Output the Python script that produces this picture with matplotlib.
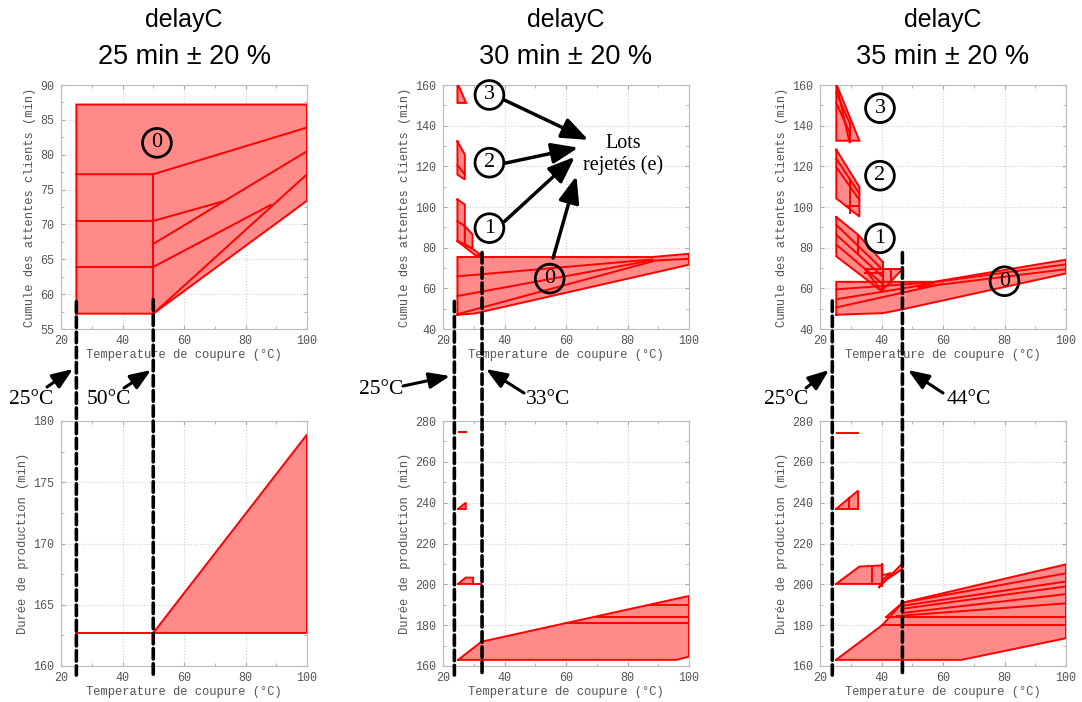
import matplotlib
matplotlib.use('Agg')
import matplotlib.pyplot as plt
from matplotlib.patches import ConnectionPatch, FancyArrowPatch
from matplotlib.ticker import MultipleLocator
from matplotlib.transforms import blended_transform_factory

W, H = 1082, 702
FILL = '#FF8A8A'
EDGE = '#FF0000'
GREY = '#555555'
MONO = 'Liberation Mono'
SERIF = 'Liberation Serif'

plt.rcParams['font.family'] = MONO

# ---- data: polygons (filled) and extra lines, per panel ----
delays = ['25 min ± 20 %', '30 min ± 20 %', '35 min ± 20 %']

fill_25_top = [
    [(25, 57.2), (25, 87.2), (100, 87.2), (100, 73.4), (50, 57.2)],
]
lines_25_top = [
    [(25, 77.2), (50, 77.2), (100, 83.9)],
    [(25, 70.5), (50, 70.5), (72.6, 73.3)],
    [(50, 67.2), (100, 80.5)],
    [(25, 63.9), (50, 63.9), (88.2, 72.8)],
    [(50, 57.2), (100, 77.2)],
    [(50, 57.2), (50, 77.2)],
]
fill_25_bot = [
    [(50, 162.7), (100, 178.9), (100, 162.7)],
]
lines_25_bot = [
    [(25, 162.7), (50, 162.7)],
]

fill_30_top = [
    [(24.7, 161.0), (24.7, 151.2), (27.5, 151.2)],
    [(24.7, 132.3), (27.1, 125.8), (27.1, 113.5), (24.7, 115.9)],
    [(24.7, 103.7), (27.1, 101.2), (27.1, 81.6), (24.7, 83.2)],
    [(27.1, 90.6), (29.6, 86.5), (29.6, 79.5), (27.1, 81.6)],
    [(24.7, 83.2), (29.6, 79.5), (32.4, 76.3), (30.5, 76.3)],
    [(24.7, 47.0), (24.7, 75.4), (88, 75.4), (100, 77.0), (100, 71.6), (30.2, 47.6)],
]
lines_30_top = [
    [(24.7, 120.6), (27.1, 116.0)],
    [(24.7, 93.0), (27.1, 90.6)],
    [(24.7, 65.9), (88, 74.2)],
    [(24.7, 56.2), (88, 73.8)],
    [(24.7, 47.3), (88, 73.2)],
    [(88, 73.6), (100, 74.5)],
]
fill_30_bot = [
    [(24.9, 236.9), (27.4, 240.0), (27.4, 236.9)],
    [(24.9, 200.2), (27.4, 203.3), (29.8, 203.3), (29.8, 200.2)],
    [(24.9, 163.0), (32.5, 171.9), (100, 194.3), (100, 164.6), (95.9, 163.0)],
]
lines_30_bot = [
    [(25.2, 274.5), (27.4, 274.5)],
    [(29.8, 200.2), (32.5, 200.2)],
    [(59.6, 180.9), (100, 180.9)],
    [(69.6, 184.2), (100, 184.2)],
    [(86.7, 189.9), (100, 189.9)],
]

fill_35_top = [
    [(25.3, 160.6), (25.3, 132.6), (32.8, 132.6)],
    [(25.3, 128.2), (32.8, 109.9), (32.8, 95.3), (25.3, 104.2)],
    [(25.3, 95.1), (32.5, 86.2), (40.5, 72.8), (40.5, 62.7), (40.0, 58.7), (25.3, 75.7)],
    [(34.6, 69.5), (46.9, 69.5), (40.0, 58.7)],
    [(25.3, 47.0), (25.3, 63.2), (57, 63.2), (100, 74.1), (100, 67.3), (46.9, 49.7), (40.4, 47.8)],
]
lines_35_top = [
    [(25.3, 160.6), (29.6, 131.8)],
    [(25.3, 156.1), (29.6, 141.5)],
    [(25.3, 151.2), (29.6, 136.7)],
    [(29.6, 141.5), (29.6, 131.8)],
    [(25.3, 123.7), (32.8, 106.6)],
    [(25.3, 119.6), (32.8, 103.5)],
    [(29.6, 113.9), (29.6, 96.9)],
    [(28.4, 100.5), (32.8, 100.5)],
    [(25.3, 91.2), (40.5, 69.0)],
    [(25.3, 86.4), (40.5, 65.5)],
    [(25.3, 81.5), (40.5, 62.0)],
    [(32.5, 86.2), (32.5, 77.0)],
    [(34.6, 67.5), (40.5, 67.5)],
    [(43.2, 69.5), (43.2, 62.5)],
    [(40.5, 72.8), (40.5, 58.7)],
    [(25.3, 59.5), (57, 63.0)],
    [(25.3, 54.6), (57, 62.5)],
    [(25.3, 50.6), (60, 62.3)],
    [(57, 63.0), (100, 71.8)],
    [(52, 60.5), (100, 69.4)],
]
fill_35_bot = [
    [(25.2, 236.9), (32.4, 245.9), (32.4, 236.9)],
    [(25.2, 200.2), (32.8, 208.7), (40.3, 209.3), (40.3, 200.2)],
    [(39.2, 198.6), (46.8, 210.3), (46.8, 207.5), (40.3, 201.0)],
    [(25.2, 163.0), (40.3, 180.1), (46.8, 191.0), (100, 209.8), (100, 173.6), (66, 163.0)],
]
lines_35_bot = [
    [(25.4, 274.3), (32.4, 274.3)],
    [(29.5, 236.9), (29.5, 242.5)],
    [(36.8, 200.2), (36.8, 208.9)],
    [(40.3, 210.0), (40.3, 199.0)],
    [(40.5, 204.5), (43.0, 205.5), (40.5, 202.5)],
    [(46.8, 191.0), (100, 205.4)],
    [(46.8, 189.5), (100, 201.4)],
    [(46.8, 188.0), (100, 199.0)],
    [(46.8, 186.0), (100, 195.2)],
    [(45.0, 184.5), (100, 190.7)],
    [(41.5, 184.0), (100, 184.0)],
    [(40.3, 180.1), (100, 180.1)],
    [(41.5, 184.0), (46.8, 191.0)],
]

# circled lot numbers (label, x, y)
circles_25 = [('0', 51.2, 81.7)]
circles_30 = [('3', 35.1, 155.1), ('2', 35.1, 121.8), ('1', 35.1, 89.6), ('0', 54.7, 64.8)]
circles_35 = [('3', 39.5, 148.6), ('2', 39.5, 115.4), ('1', 39.5, 84.6), ('0', 80.0, 63.5)]

# cut temperatures: x position, start y in the top panel
cut_x = [(25, 50), (23.7, 32.7), (24.0, 46.8)]
cut_y = [(58.9, 59.2), (53.6, 77.6), (53.8, 77.6)]

# arrows to "Lots rejetés (e)" in middle top panel: (tail, head)
lot_arrows = [((40, 152.6), (67.3, 133.0)), ((40, 121.5), (64.0, 129.2)),
              ((40, 92.9), (62.9, 124.7)), ((55.8, 74.9), (63.4, 115.3))]

# temperature labels in figure pixels (text, x, y) and their arrows
temp_labels = [('25°C', 31, 399), ('50°C', 109, 399), ('25°C', 381, 390),
               ('33°C', 548, 400), ('25°C', 786, 399), ('44°C', 969, 399)]
temp_arrows = [((47, 387), (73, 369)), ((124, 388), (151, 370)), ((403, 386), (450, 376)),
               ((524, 393), (486, 369)), ((806, 388), (829, 370)), ((943, 393), (908, 370))]

panels_top = [(fill_25_top, lines_25_top), (fill_30_top, lines_30_top), (fill_35_top, lines_35_top)]
panels_bot = [(fill_25_bot, lines_25_bot), (fill_30_bot, lines_30_bot), (fill_35_bot, lines_35_bot)]
circles = [circles_25, circles_30, circles_35]
top_ylim = [(55, 90, 5, 2.5), (40, 160, 20, 10), (40, 160, 20, 10)]
bot_ylim = [(160, 180, 5, 2.5), (160, 280, 20, 10), (160, 280, 20, 10)]

col_left = [61, 443, 820]
AX_W = 246
TOP_Y, TOP_H = 85, 244
BOT_Y, BOT_H = 421, 245

fig = plt.figure(figsize=(W / 100, H / 100), dpi=100)
fig.patch.set_facecolor('white')


def px_axes(left, top, w, h):
    return fig.add_axes([left / W, 1 - (top + h) / H, w / W, h / H])


def style(ax, lim, ylabel):
    lo, hi, step, minor = lim
    ax.set_xlim(20, 100)
    ax.set_ylim(lo, hi)
    ax.xaxis.set_major_locator(MultipleLocator(20))
    ax.xaxis.set_minor_locator(MultipleLocator(10))
    ax.yaxis.set_major_locator(MultipleLocator(step))
    ax.yaxis.set_minor_locator(MultipleLocator(minor))
    ax.grid(True, which='major', ls=':', color='#D0D0D0', lw=0.8)
    ax.tick_params(which='both', direction='in', top=True, right=True,
                   color='#AAAAAA', labelcolor=GREY, labelsize=8.5)
    ax.tick_params(axis='x', pad=4)
    ax.tick_params(axis='y', pad=5)
    ax.tick_params(which='major', length=3)
    ax.tick_params(which='minor', length=2)
    for s in ax.spines.values():
        s.set_color('#BBBBBB')
        s.set_linewidth(0.8)
    ax.set_xlabel('Temperature de coupure (°C)', fontsize=8.7, color=GREY, labelpad=2)
    ax.set_ylabel(ylabel, fontsize=8.7, color=GREY, labelpad=3)
    ax.set_axisbelow(True)


def draw_shapes(ax, fills, lines):
    for poly in fills:
        xs = [p[0] for p in poly]
        ys = [p[1] for p in poly]
        ax.fill(xs, ys, color=FILL, lw=0, zorder=2)
    for poly in fills:
        xs = [p[0] for p in poly] + [poly[0][0]]
        ys = [p[1] for p in poly] + [poly[0][1]]
        ax.plot(xs, ys, color=EDGE, lw=1.4, zorder=3, solid_joinstyle='miter')
    for line in lines:
        ax.plot([p[0] for p in line], [p[1] for p in line], color=EDGE, lw=1.4, zorder=3)


for i in range(3):
    left = col_left[i]
    ax_t = px_axes(left, TOP_Y, AX_W, TOP_H)
    ax_b = px_axes(left, BOT_Y, AX_W, BOT_H)
    style(ax_t, top_ylim[i], 'Cumule des attentes clients (min)')
    style(ax_b, bot_ylim[i], 'Durée de production (min)')
    draw_shapes(ax_t, *panels_top[i])
    draw_shapes(ax_b, *panels_bot[i])

    for lab, cx, cy in circles[i]:
        ax_t.text(cx, cy, lab, ha='center', va='center', fontsize=16, family=SERIF,
                  zorder=6, bbox=dict(boxstyle='circle,pad=0.22', fc='none', ec='black', lw=2))

    # dashed cut lines joining the two panels
    tr_b = blended_transform_factory(ax_b.transData, ax_b.transAxes)
    for cx, cy in zip(cut_x[i], cut_y[i]):
        con = ConnectionPatch(xyA=(cx, cy), coordsA=ax_t.transData,
                              xyB=(cx, -0.037), coordsB=tr_b,
                              color='black', lw=2.6, linestyle=(0, (2.9, 1.3)), zorder=10)
        fig.add_artist(con)

    # titles
    cxp = left + AX_W / 2
    fig.text(cxp / W, 1 - 20 / H, 'delayC', ha='center', va='center', fontsize=18,
             family='Liberation Sans')
    fig.text(cxp / W, 1 - 57 / H, delays[i], ha='center', va='center', fontsize=19.5,
             family='Liberation Sans')

    if i == 1:
        ax_t.text(78.7, 125.6, 'Lots\nrejetés (e)', ha='center', va='center', fontsize=14.5,
                  family=SERIF, linespacing=1.15, zorder=6)
        for tail, head in lot_arrows:
            ax_t.annotate('', xy=head, xytext=tail, zorder=6,
                          arrowprops=dict(arrowstyle='-|>,head_length=0.9,head_width=0.35',
                                          color='black', lw=2.5, mutation_scale=18,
                                          shrinkA=0, shrinkB=0))

for (txt, x, y), (tail, head) in zip(temp_labels, temp_arrows):
    fig.text(x / W, 1 - y / H, txt, ha='center', va='center', fontsize=15.5, family=SERIF)
    fig.add_artist(FancyArrowPatch(
        (tail[0] / W, 1 - tail[1] / H), (head[0] / W, 1 - head[1] / H),
        transform=fig.transFigure, arrowstyle='-|>,head_length=0.9,head_width=0.35',
        mutation_scale=14, color='black', lw=2.2, shrinkA=0, shrinkB=0))

fig.savefig('out.png', dpi=100, facecolor='white')
